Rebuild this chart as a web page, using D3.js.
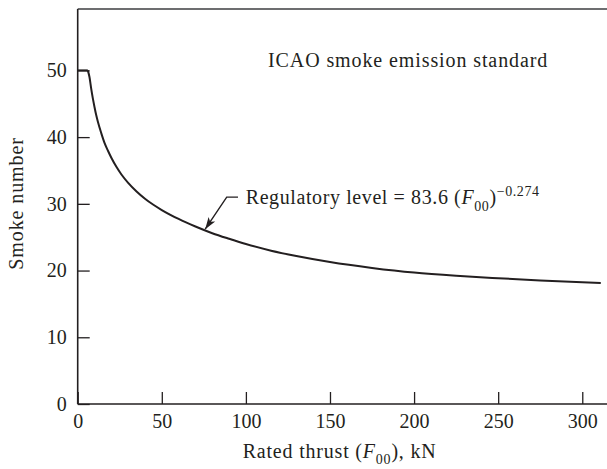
<!DOCTYPE html>
<html>
<head>
<meta charset="utf-8">
<script src="https://cdn.jsdelivr.net/npm/d3@7"></script>
<style>
  html, body { margin: 0; padding: 0; background: #fff; }
  svg { display: block; }
  svg text { font-family: "Liberation Serif", "DejaVu Serif", serif; fill: #231f20; }
</style>
</head>
<body>
<svg id="chart" width="607" height="469"></svg>
<script>
// Data
const thrust = [6, 7, 8, 9, 10, 11, 12, 14, 16, 18, 20, 23, 26, 30, 35, 40, 45, 50, 60, 70, 80, 90, 100, 115, 130, 150, 175, 200, 225, 250, 275, 300, 311];
const smoke  = [50, 49.0, 47.3, 45.8, 44.5, 43.3, 42.3, 40.6, 39.1, 37.95, 36.9, 35.55, 34.4, 33.15, 31.86, 30.77, 29.86, 29.07, 27.73, 26.6, 25.6, 24.76, 23.98, 22.98, 22.18, 21.28, 20.4, 19.7, 19.22, 18.85, 18.52, 18.25, 18.15];
const capThrust = [0, 6];
const capSmoke = [50, 50];
const xTicks = [0, 50, 100, 150, 200, 250, 300];
const yTicks = [0, 10, 20, 30, 40, 50];
const arrowTip = [75.8, 26.2];
const arrowElbow = [88.6, 31.0];
const arrowEnd = [95.3, 31.0];

const svg = d3.select("#chart");
const ink = "#231f20";
const mLeft = 77.7, mRight = 607, mTop = 9, mBottom = 404;
const FONT = '"Liberation Serif", "DejaVu Serif", serif';

const x = d3.scaleLinear().domain([0, 314.7]).range([mLeft, mRight]);
const y = d3.scaleLinear().domain([0, 59.2]).range([mBottom, mTop]);

// frame lines
svg.append("line").attr("x1", mLeft).attr("x2", mRight).attr("y1", mTop).attr("y2", mTop)
  .attr("stroke", "#6d6e70").attr("stroke-width", 2);

// Axes with inward ticks
const yAxis = d3.axisLeft(y).tickValues(yTicks).tickSizeInner(-12).tickSizeOuter(0);
const gy = svg.append("g").attr("transform", `translate(${mLeft},0)`).call(yAxis)
  .attr("font-family", FONT).attr("font-size", 20);
gy.select(".domain").remove();
gy.selectAll(".tick line").attr("stroke", ink).attr("stroke-width", 1.3);
gy.selectAll(".tick text").attr("fill", ink).attr("x", -11).attr("text-anchor", "end");

const xAxis = d3.axisBottom(x).tickValues(xTicks).tickSizeInner(-12).tickSizeOuter(0);
const gx = svg.append("g").attr("transform", `translate(0,${mBottom})`).call(xAxis)
  .attr("font-family", FONT).attr("font-size", 20);
gx.select(".domain").remove();
gx.selectAll(".tick line").attr("stroke", ink).attr("stroke-width", 1.3);
gx.selectAll(".tick text").attr("fill", ink).attr("y", 10);

svg.append("line").attr("x1", mLeft).attr("x2", mLeft).attr("y1", mTop).attr("y2", mBottom)
  .attr("stroke", ink).attr("stroke-width", 1.6);
svg.append("line").attr("x1", mLeft).attr("x2", mRight).attr("y1", mBottom).attr("y2", mBottom)
  .attr("stroke", ink).attr("stroke-width", 1.6);

// curve
const capLine = d3.line().x((d, i) => x(capThrust[i])).y((d, i) => y(capSmoke[i]));
svg.append("path").attr("d", capLine(capThrust)).attr("fill", "none")
  .attr("stroke", ink).attr("stroke-width", 2);
const curve = d3.line().x((d, i) => x(thrust[i])).y((d, i) => y(smoke[i])).curve(d3.curveMonotoneX);
svg.append("path").attr("d", curve(thrust)).attr("fill", "none")
  .attr("stroke", ink).attr("stroke-width", 2).attr("stroke-linejoin", "round");

// leader + arrow
const tip = [x(arrowTip[0]), y(arrowTip[1])];
const elbow = [x(arrowElbow[0]), y(arrowElbow[1])];
const end = [x(arrowEnd[0]), y(arrowEnd[1])];
svg.append("path").attr("d", `M${end[0]},${end[1]}L${elbow[0]},${elbow[1]}L${tip[0]},${tip[1]}`)
  .attr("fill", "none").attr("stroke", ink).attr("stroke-width", 1.4);
const ang = Math.atan2(tip[1] - elbow[1], tip[0] - elbow[0]);
const L = 12, W = 4;
const bx = tip[0] - L * Math.cos(ang), by = tip[1] - L * Math.sin(ang);
const px = -Math.sin(ang) * W, py = Math.cos(ang) * W;
svg.append("path")
  .attr("d", `M${tip[0]},${tip[1]}L${bx + px},${by + py}L${bx + L*0.25*Math.cos(ang)},${by + L*0.25*Math.sin(ang)}L${bx - px},${by - py}Z`)
  .attr("fill", ink);

// annotations
svg.append("text").attr("x", 268).attr("y", 66.7).attr("font-size", 20)
  .attr("letter-spacing", 0.9).text("ICAO smoke emission standard");

const reg = svg.append("text").attr("x", 245.7).attr("y", 204).attr("font-size", 20).attr("letter-spacing", 0.6);
reg.append("tspan").text("Regulatory level = 83.6 (");
reg.append("tspan").attr("font-style", "italic").text("F");
reg.append("tspan").attr("font-size", 14).attr("dy", 7).text("00");
reg.append("tspan").attr("dy", -7).text(")");
reg.append("tspan").attr("font-size", 14).attr("dy", -8).text("\u22120.274");

// axis titles
const xt = svg.append("text").attr("x", 242.7).attr("y", 458).attr("font-size", 20).attr("letter-spacing", 0.8);
xt.append("tspan").text("Rated thrust (");
xt.append("tspan").attr("font-style", "italic").text("F");
xt.append("tspan").attr("font-size", 14).attr("dy", 6).text("00");
xt.append("tspan").attr("dy", -6).text("), kN");

svg.append("text").attr("transform", "translate(23.3,203.5) rotate(-90)")
  .attr("text-anchor", "middle").attr("font-size", 20).attr("letter-spacing", 0.9)
  .text("Smoke number");
</script>
</body>
</html>
